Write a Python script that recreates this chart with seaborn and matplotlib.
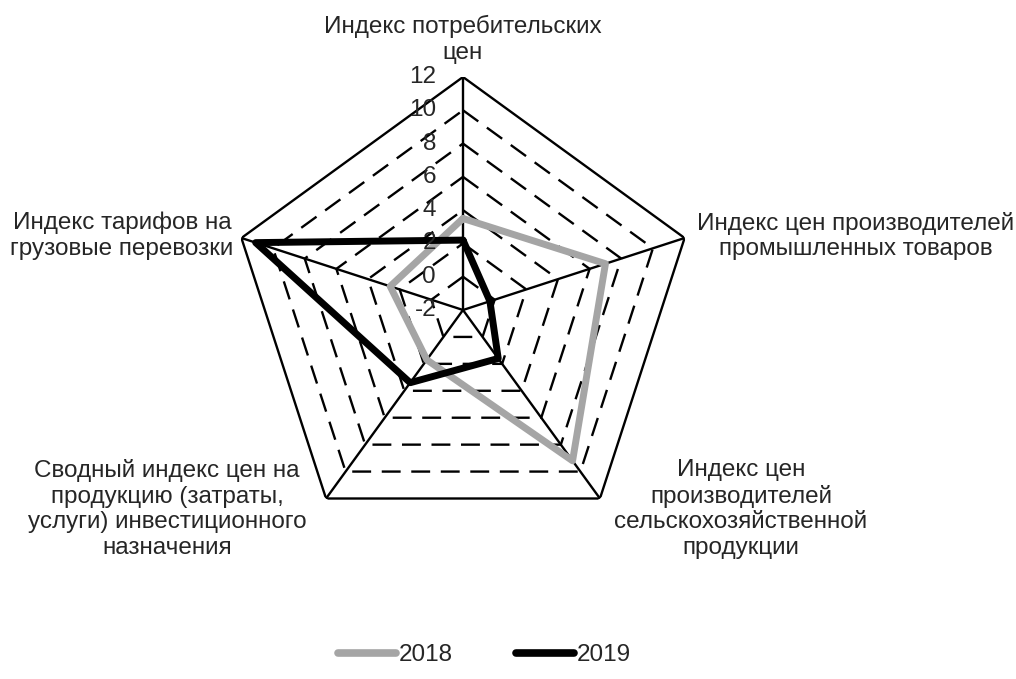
import numpy as np
import pandas as pd
import matplotlib
matplotlib.use("Agg")
import matplotlib.pyplot as plt
import matplotlib.transforms as mtransforms
from matplotlib.lines import Line2D
import seaborn as sns

# данные
categories = [
    "Индекс потребительских\nцен",
    "Индекс цен производителей\nпромышленных товаров",
    "Индекс цен\nпроизводителей\nсельскохозяйственной\nпродукции",
    "Сводный индекс цен на\nпродукцию (затраты,\nуслуги) инвестиционного\nназначения",
    "Индекс тарифов на\nгрузовые перевозки",
]
values_2018 = [3.5, 7.0, 9.2, 1.7, 2.6]
values_2019 = [2.2, -0.3, 1.6, 3.4, 11.1]
rings = [-2, 0, 2, 4, 6, 8, 10, 12]

sns.set_style("white")
plt.rcParams["font.family"] = ["Liberation Sans", "DejaVu Sans"]
fs = 17.5

W, H = 1016, 679
fig = plt.figure(figsize=(W / 100, H / 100), dpi=100)

# центр (463, 310), радиус 233 px
cx, cy, R = 463, 310, 233
ax = fig.add_axes([(cx - R) / W, (H - cy - R) / H, 2 * R / W, 2 * R / H], projection="polar")
ax.set_theta_offset(np.pi / 2)
ax.set_theta_direction(-1)

n = len(categories)
theta = np.arange(n) * 2 * np.pi / n
theta_closed = np.append(theta, theta[0])

# сетка-пятиугольники
for v in rings[1:]:
    r = [v] * (n + 1)
    if v == rings[-1]:
        ax.plot(theta_closed, r, color="black", lw=1.7, zorder=1)
    else:
        ax.plot(theta_closed, r, color="black", lw=1.7, dashes=(8, 4.5), zorder=1)

# оси
for t in theta:
    ax.plot([t, t], [rings[0], rings[-1]], color="black", lw=1.7, zorder=2)

# ряды
df = pd.DataFrame({
    "theta": np.concatenate([theta_closed, theta_closed]),
    "value": values_2018 + values_2018[:1] + values_2019 + values_2019[:1],
    "year": ["2018"] * (n + 1) + ["2019"] * (n + 1),
})
sns.lineplot(data=df[df.year == "2018"], x="theta", y="value", sort=False, estimator=None,
             color="#a5a5a5", lw=5, ax=ax, zorder=3)
sns.lineplot(data=df[df.year == "2019"], x="theta", y="value", sort=False, estimator=None,
             color="black", lw=5, ax=ax, zorder=4)

ax.set_ylim(rings[0], rings[-1])
ax.set_xticks([])
ax.set_yticks([])
ax.grid(False)
ax.spines["polar"].set_visible(False)
ax.set_xlabel("")
ax.set_ylabel("")
ax.patch.set_alpha(0)

# подписи шкалы
tr = mtransforms.offset_copy(ax.transData, fig=fig, x=-27, y=0, units="dots")
for v in rings:
    ax.text(0, v, str(v), transform=tr, ha="right", va="center", fontsize=fs, zorder=5)

# подписи категорий
def px(x, y):
    return x / W, 1 - y / H

label_pos = [
    (463, 64, "center", "bottom"),
    (697, 236, "left", "center"),
    (741, 509, "center", "center"),
    (167, 509, "center", "center"),
    (122, 236, "center", "center"),
]
for lab, (x, y, ha, va) in zip(categories, label_pos):
    fig.text(*px(x, y), lab, ha=ha, va=va, ma="center", fontsize=fs, linespacing=1.22)

handles = [Line2D([], [], color="#a5a5a5", lw=5.5), Line2D([], [], color="black", lw=5.5)]
fig.legend(handles, ["2018", "2019"], loc="center", bbox_to_anchor=px(484, 655), ncol=2,
           frameon=False, fontsize=fs, handlelength=2.4, handletextpad=0.1, columnspacing=2.6)

fig.savefig("out.png", dpi=100)
